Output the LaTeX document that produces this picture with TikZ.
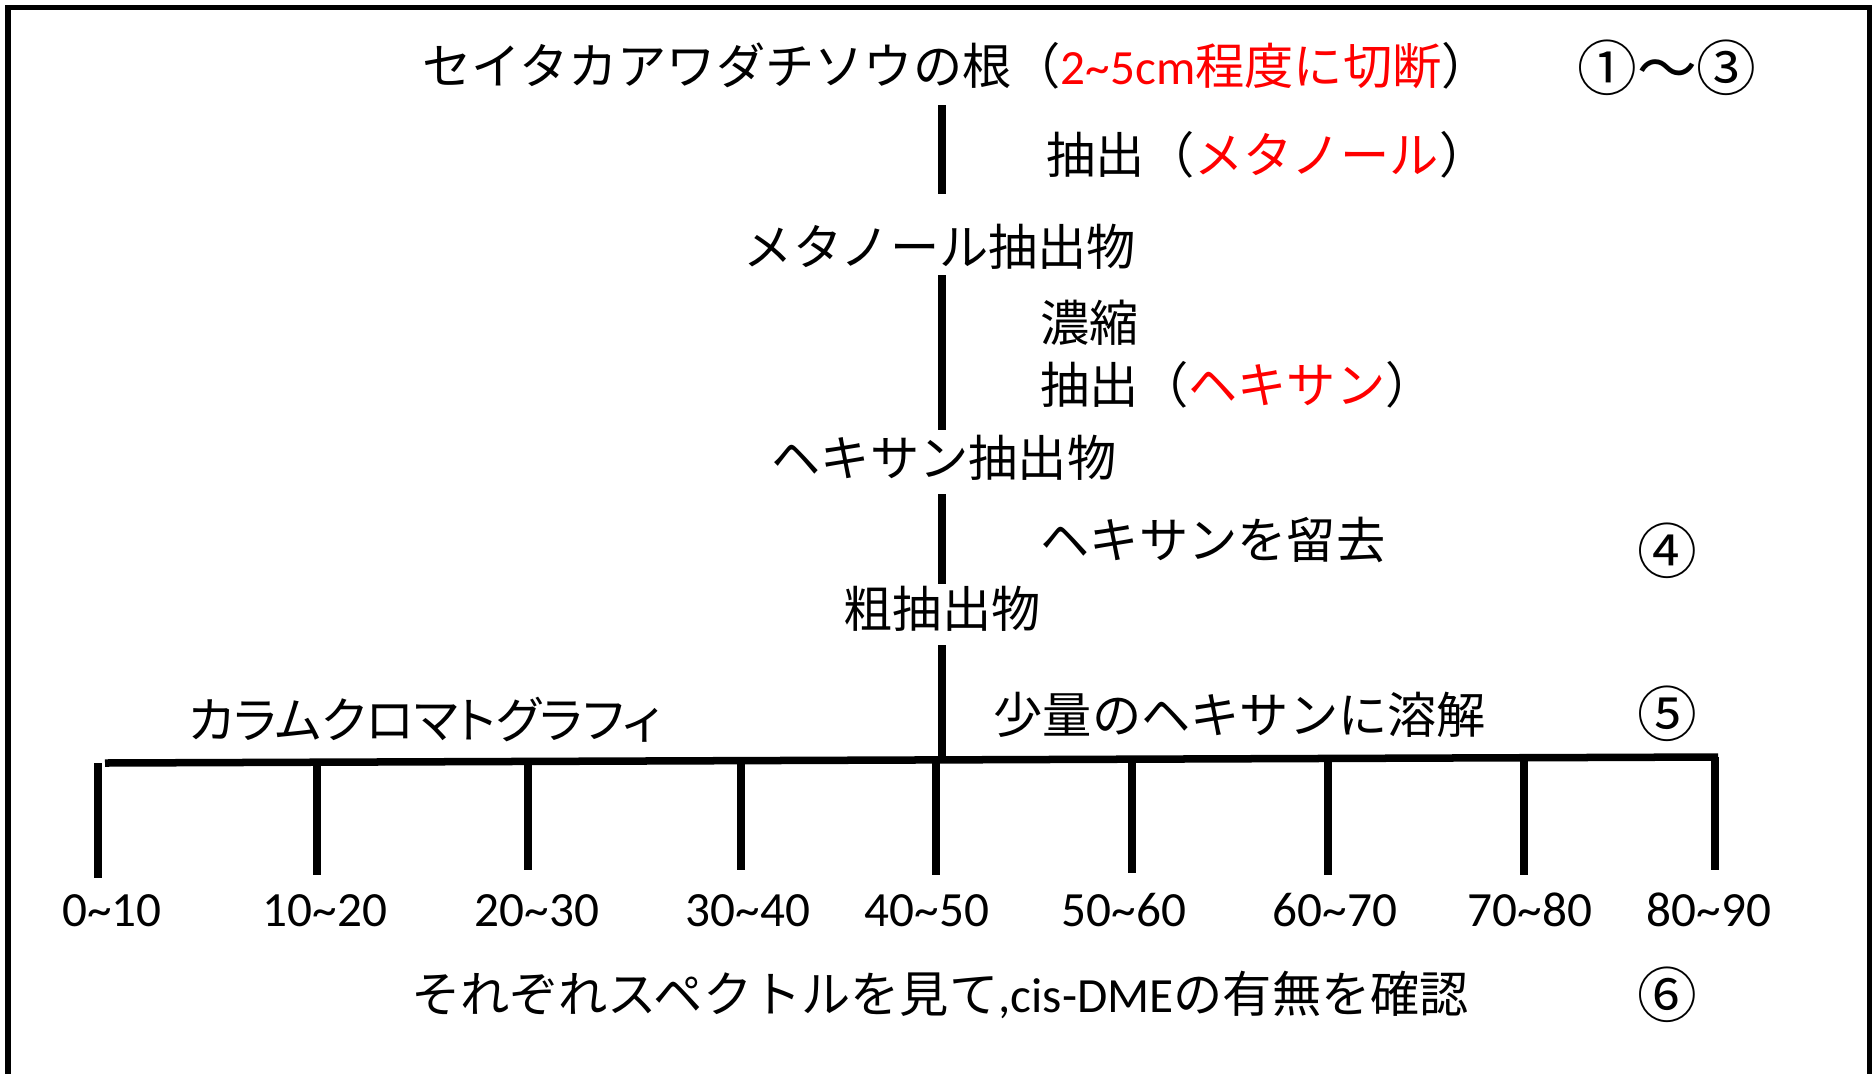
\documentclass[tikz,border=0pt]{standalone}
\usepackage{fontspec}
\setmainfont{Carlito}
\newfontfamily\jp{Noto Sans CJK JP}
\newfontfamily\jpp{Noto Sans CJK JP}[RawFeature=+palt]
\newfontfamily\lat{Carlito}
\usepackage{tikz}

\begin{document}
\begin{tikzpicture}[x=0.01cm,y=-0.01cm,
    txt/.style={inner sep=0pt,text height=0.43cm,text depth=0.064cm,font=\fontsize{14}{17}\jp},
    num/.style={txt,font=\fontsize{17}{20}\jp},
    stem/.style={line width=0.075cm},
    frame/.style={line width=0.05cm}]
    \clip (0,0) rectangle (1874,1073);
    \draw[frame] (8,1100) -- (8,8) -- (1869,8) -- (1869,1100);
    % main flow
    \coordinate (axis) at (942,0);
    \node[txt,anchor=west] (root) at (422,66) {セイタカアワダチソウの根（\textcolor{red}{{\lat 2\textasciitilde5cm}程度に切断}）};
    \node[num] (num13) at (1667,72) {①～③};
    \node[txt,anchor=west] (step1) at (1046,155) {抽出（\textcolor{red}{メタノール}）};
    \node[txt] (meoh) at (940,247) {メタノール抽出物};
    \node[txt,anchor=west] (step2a) at (1040,323) {濃縮};
    \node[txt,anchor=west] (step2b) at (1040,385) {抽出（\textcolor{red}{ヘキサン}）};
    \node[txt] (hexext) at (944,458) {ヘキサン抽出物};
    \node[txt,anchor=west] (step3) at (1040,540) {ヘキサンを留去};
    \node[num] (num4) at (1667,555) {④};
    \node[txt] (crude) at (942,609) {粗抽出物};
    \node[txt,font=\fontsize{14}{17}\jpp] (column) at (425,720) {カラムクロマトグラフィ};
    \node[txt,anchor=west] (step4) at (993,715) {少量のヘキサンに溶解};
    \node[num] (num5) at (1667,718) {⑤};
    \node[txt] (check) at (940,994) {それぞれスペクトルを見て{\lat ,cis-DME}の有無を確認};
    \node[num] (num6) at (1667,999) {⑥};
    \draw[stem,shorten <=0.14cm,shorten >=0.28cm] (root.south -| axis) -- (meoh.north -| axis);
    \draw[stem,shorten <=0.03cm,shorten >=0.03cm] (meoh.south -| axis) -- (hexext.north -| axis);
    \draw[stem,shorten <=0.11cm] (hexext.south -| axis) -- (crude.north -| axis);
    % column and fractions
    \coordinate (barL) at (105,763);
    \coordinate (barR) at (1718,757);
    \coordinate (join) at (942,759);
    \draw[stem,shorten <=0.11cm] (crude.south -| axis) -- (join);
    \draw[stem] (barL) -- (barR);
    \foreach \tx/\lx/\ty/\lo/\hi [count=\i] in {98/112/878/0/10,317/325/875/10/20,528/537/870/20/30,
        741/748/870/30/40,936/927/875/40/50,1132/1124/873/50/60,1328/1335/875/60/70,
        1524/1530/875/70/80,1715/1709/870/80/90} {
      \coordinate (t\i) at (\tx,{763-0.0037*(\tx-105)});
      \draw[stem] (t\i) -- (\tx,\ty);
      \node[txt,font=\fontsize{14}{17}\lat] (f\i) at (\lx,908) {\lo\textasciitilde\hi};
    }
\end{tikzpicture}
\end{document}
